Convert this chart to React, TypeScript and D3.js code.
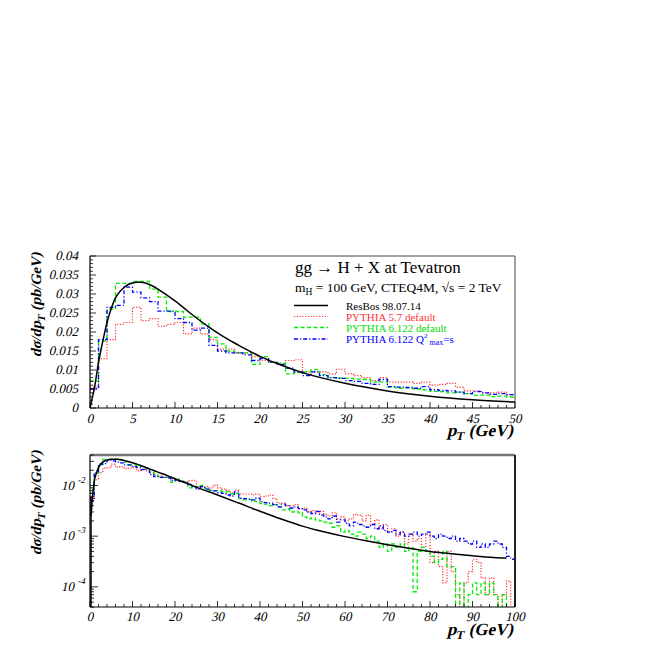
import React from "react";
import * as d3 from "d3";

// ResBos 98.07.14 smooth prediction (pT in GeV, dσ/dpT in pb/GeV)
const resbosPt = [0, 0.25, 0.5, 1, 1.5, 2, 2.5, 3, 3.5, 4, 4.5, 5, 5.5, 6, 7, 8, 9, 10, 11, 12, 13, 14, 15, 16, 17, 18, 19, 20, 22, 25, 30, 35, 40, 45, 50, 55, 60, 65, 70, 75, 80, 85, 90, 95, 98];
const resbosVal = [0, 0.0025, 0.005, 0.012, 0.0175, 0.0225, 0.0262, 0.029, 0.0306, 0.0317, 0.0325, 0.0329, 0.0331, 0.0331, 0.0325, 0.0313, 0.0298, 0.0282, 0.0264, 0.0246, 0.0229, 0.0213, 0.0198, 0.0184, 0.0171, 0.0159, 0.0147, 0.0136, 0.0117, 0.0093, 0.0065, 0.0045, 0.0031, 0.00218, 0.00158, 0.00122, 0.00098, 0.00081, 0.00068, 0.00058, 0.0005, 0.00045, 0.00041, 0.00038, 0.00037];

// PYTHIA 5.7 default, 1 GeV bins 0..100
const pythia57 = [
  0.0055, 0.013, 0.018, 0.022, 0.0225, 0.0265, 0.023, 0.0235, 0.0215, 0.022,
  0.0225, 0.0195, 0.021, 0.0195, 0.018, 0.0155, 0.0155, 0.0145, 0.0145, 0.0135,
  0.0125, 0.012, 0.0115, 0.0125, 0.0127, 0.0095, 0.0095, 0.0095, 0.009, 0.0102,
  0.009, 0.0085, 0.008, 0.0072, 0.008, 0.0068, 0.0068, 0.0068, 0.0065, 0.0068,
  0.006, 0.0062, 0.0065, 0.0055, 0.0045, 0.0045, 0.004, 0.004, 0.0042, 0.0035,
  0.0036, 0.003, 0.0032, 0.0029, 0.0031, 0.0027, 0.0025, 0.0029, 0.0022, 0.0024,
  0.002, 0.0022, 0.0027, 0.0026, 0.002, 0.0026, 0.0017, 0.0021, 0.0014, 0.0017,
  0.0012, 0.0014, 0.001, 0.0012, 0.0007, 0.0011, 0.0008, 0.0009, 0.0006, 0.0011,
  0.0003, 0.0005, 0.00025, 0.00012, 0.0005, 0.0002, 0.00007, 0, 0.00012, 0.0002,
  0.00035, 0.0003, 0.00015, 0.00007, 0.00015, 0.00007, 0, 0.00007, 0.00013, 0
];

// PYTHIA 6.122 default
const pythia6122 = [
  0.0071, 0.0176, 0.026, 0.0328, 0.0328, 0.0333, 0.0333, 0.0313, 0.0292, 0.0254,
  0.0254, 0.0239, 0.0239, 0.0221, 0.0186, 0.0169, 0.015, 0.0145, 0.0145, 0.0115,
  0.0135, 0.012, 0.0118, 0.009, 0.0093, 0.0095, 0.0101, 0.0088, 0.008, 0.0079,
  0.0078, 0.0076, 0.0075, 0.0068, 0.0069, 0.0055, 0.0052, 0.0053, 0.005, 0.0048,
  0.0044, 0.0043, 0.004, 0.0042, 0.0038, 0.0033, 0.0034, 0.003, 0.0031, 0.0029,
  0.0024, 0.0022, 0.0023, 0.0021, 0.002, 0.0019, 0.0018, 0.0015, 0.0016, 0.0012,
  0.0013, 0.0011, 0.001, 0.0012, 0.0011, 0.0009, 0.001, 0.0008, 0.0006, 0.0007,
  0.0005, 0.0007, 0.0006, 0.0007, 0.0005, 0.0006, 0.00008, 0.0005, 0.0006, 0.0005,
  0.0004, 0.0003, 0.00035, 0.0005, 0.00025, 0.00025, 0, 0.00012, 0, 0.00007,
  0.00012, 0.00007, 0.00012, 0.00007, 0.00012, 0.00007, 0, 0.00007, 0, 0
];

// PYTHIA 6.122 Q^2_max = s
const pythiaQ2 = [
  0.005, 0.018, 0.0265, 0.027, 0.0318, 0.0305, 0.029, 0.028, 0.0255, 0.0255,
  0.0235, 0.0225, 0.0205, 0.021, 0.0165, 0.015, 0.0145, 0.0145, 0.014, 0.0125,
  0.013, 0.012, 0.0115, 0.0105, 0.0095, 0.0085, 0.0095, 0.0085, 0.008, 0.0078,
  0.0072, 0.007, 0.0065, 0.0062, 0.0075, 0.0056, 0.0055, 0.0054, 0.0052, 0.0056,
  0.0048, 0.0046, 0.0045, 0.0042, 0.0038, 0.0043, 0.004, 0.0036, 0.0038, 0.0035,
  0.0033, 0.003, 0.0028, 0.0031, 0.0026, 0.0024, 0.0022, 0.0025, 0.0019, 0.0021,
  0.0018, 0.0016, 0.0019, 0.0017, 0.0016, 0.0015, 0.0017, 0.0014, 0.0016, 0.0013,
  0.0012, 0.0013, 0.0011, 0.0012, 0.001, 0.0011, 0.0012, 0.001, 0.0011, 0.0012,
  0.001, 0.0009, 0.0011, 0.001, 0.0009, 0.001, 0.0008, 0.0009, 0.0008, 0.0007,
  0.0008, 0.0006, 0.0007, 0.0006, 0.0007, 0.0008, 0.0007, 0.0006, 0.0004, 0.00035
];

const topYTickLabels = ["0", "0.005", "0.01", "0.015", "0.02", "0.025", "0.03", "0.035", "0.04"];
const topYTickValues = [0, 0.005, 0.01, 0.015, 0.02, 0.025, 0.03, 0.035, 0.04];
const topXTicks = [0, 5, 10, 15, 20, 25, 30, 35, 40, 45, 50];
const botXTicks = [0, 10, 20, 30, 40, 50, 60, 70, 80, 90, 100];
const botYExponents = [-2, -3, -4];

const legendLabels = ["ResBos 98.07.14", "PYTHIA 5.7 default", "PYTHIA 6.122 default"];

const L = 90, R = 515;
const TOP_T = 256, TOP_B = 408;
const BOT_T = 455, BOT_B = 607;
const FONT = "'Liberation Serif', 'Times New Roman', serif";
const SKEW = -13;

const styles = {
  resbos: { stroke: "#000", dash: undefined as string | undefined, width: 1.5 },
  p57: { stroke: "#ff3030", dash: "1.2 1.6", width: 1.2 },
  p6: { stroke: "#00ee00", dash: "4 2.5", width: 1.3 },
  pq: { stroke: "#0000ff", dash: "4 2 1.2 2", width: 1.3 },
};

function histPoints(vals: number[], n: number, floor: number): [number, number][] {
  const pts: [number, number][] = [];
  for (let i = 0; i < n; i++) {
    const v = Math.max(vals[i], floor);
    pts.push([i, v], [i + 1, v]);
  }
  return pts;
}

// Italic rendering via skew so the serif face is kept
function IText(props: { x: number; y: number; size: number; anchor?: string; bold?: boolean; rotate?: number; children?: React.ReactNode }) {
  const { x, y, size, anchor, bold, rotate, children } = props;
  const tr = `translate(${x},${y})` + (rotate ? ` rotate(${rotate})` : "") + ` skewX(${SKEW})`;
  return (
    <text transform={tr} fontSize={size} textAnchor={anchor || "start"} fontWeight={bold ? "bold" : "normal"}>
      {children}
    </text>
  );
}

export default function App() {
  const xTop = d3.scaleLinear().domain([0, 50]).range([L, R]);
  const yTop = d3.scaleLinear().domain([0, 0.04]).range([TOP_B, TOP_T]);
  const xBot = d3.scaleLinear().domain([0, 100]).range([L, R]);
  const yBot = d3.scaleLog().domain([4e-5, 0.04]).range([BOT_B, BOT_T]);

  const lineTop = d3.line<[number, number]>().x((d) => xTop(d[0])).y((d) => yTop(d[1]));
  const lineBot = d3.line<[number, number]>().x((d) => xBot(d[0])).y((d) => yBot(d[1]));
  const smoothTop = d3.line<[number, number]>().x((d) => xTop(d[0])).y((d) => yTop(d[1])).curve(d3.curveMonotoneX);
  const smoothBot = d3.line<[number, number]>().x((d) => xBot(d[0])).y((d) => yBot(d[1])).curve(d3.curveMonotoneX);

  const resbos: [number, number][] = resbosPt.map((p, i) => [p, resbosVal[i]]);
  const resbosTop = resbos.filter((d) => d[0] <= 50.5);
  const resbosBot = resbos.filter((d) => d[1] > 0);

  const hists = [
    { data: pythia57, st: styles.p57 },
    { data: pythia6122, st: styles.p6 },
    { data: pythiaQ2, st: styles.pq },
  ];

  const topXMinor = d3.range(0, 51, 1);
  const topYMinor = d3.range(0, 0.0405, 0.001);
  const botXMinor = d3.range(0, 101, 2);
  const botYMinor: { v: number; major: boolean }[] = [];
  for (let k = -5; k <= -2; k++) {
    for (let m = 1; m <= 9; m++) {
      const v = m * Math.pow(10, k);
      if (v >= 4e-5 && v <= 0.04) botYMinor.push({ v, major: m === 1 });
    }
  }

  const legendRows = [305.5, 316.5, 327.5, 339];
  const legendStyles = [styles.resbos, styles.p57, styles.p6, styles.pq];
  const legendColors = ["#000", "#ff3030", "#00dd00", "#0000ff"];

  return (
    <svg width={654} height={654} style={{ position: "absolute", left: 0, top: 0, background: "#fff" }} fontFamily={FONT}>
      <defs>
        <clipPath id="clipTop">
          <rect x={L} y={TOP_T} width={R - L} height={TOP_B - TOP_T} />
        </clipPath>
        <clipPath id="clipBot">
          <rect x={L} y={BOT_T} width={R - L} height={BOT_B - BOT_T} />
        </clipPath>
      </defs>
      <rect x={0} y={0} width={654} height={654} fill="#fff" />

      {/* ===== TOP PANEL ===== */}
      <g clipPath="url(#clipTop)">
        {hists.map((h, i) => (
          <path key={i} d={lineTop(histPoints(h.data, 50, 0)) || ""} fill="none"
            stroke={h.st.stroke} strokeWidth={h.st.width} strokeDasharray={h.st.dash} />
        ))}
        <path d={smoothTop(resbosTop) || ""} fill="none" stroke="#000" strokeWidth={1.5} />
      </g>
      <line x1={L} x2={R} y1={TOP_T} y2={TOP_T} stroke="#444" strokeWidth={1} />
      <line x1={R} x2={R} y1={TOP_T} y2={TOP_B} stroke="#444" strokeWidth={1} />
      <line x1={L} x2={L} y1={TOP_T} y2={TOP_B} stroke="#000" strokeWidth={1.2} />
      <line x1={L} x2={R} y1={TOP_B} y2={TOP_B} stroke="#000" strokeWidth={1.2} />
      {topXMinor.map((t) => (
        <line key={"tx" + t} x1={xTop(t)} x2={xTop(t)} y1={TOP_B} y2={TOP_B - (t % 5 === 0 ? 6 : 3)} stroke="#000" strokeWidth={0.8} />
      ))}
      {topYMinor.map((t, i) => (
        <line key={"ty" + i} x1={L} x2={L + (i % 5 === 0 ? 6 : 3)} y1={yTop(t)} y2={yTop(t)} stroke="#000" strokeWidth={0.8} />
      ))}
      {topXTicks.map((t) => (
        <IText key={"txl" + t} x={xTop(t)} y={TOP_B + 15} size={13} anchor="middle">{t}</IText>
      ))}
      {topYTickValues.map((t, i) => (
        <IText key={"tyl" + i} x={78} y={yTop(t) + 4} size={13} anchor="end">{topYTickLabels[i]}</IText>
      ))}
      <IText x={41} y={305} rotate={-90} size={14.5} anchor="middle" bold>
        dσ/dp<tspan fontSize={10.5} dy={4}>T</tspan><tspan dy={-4}> (pb/GeV)</tspan>
      </IText>
      <IText x={513} y={436} size={17} anchor="end" bold>
        p<tspan fontSize={12} dy={4}>T</tspan><tspan dy={-4}> (GeV)</tspan>
      </IText>

      {/* legend */}
      <text x={295} y={273} fontSize={17}>gg → H + X at Tevatron</text>
      <text x={295} y={292} fontSize={13.5}>
        m<tspan fontSize={9.5} dy={3}>H</tspan><tspan dy={-3}> = 100 GeV, CTEQ4M, √s = 2 TeV</tspan>
      </text>
      {legendRows.map((y, i) => (
        <line key={"lg" + i} x1={294} x2={328} y1={y} y2={y} stroke={legendStyles[i].stroke}
          strokeWidth={legendStyles[i].width} strokeDasharray={legendStyles[i].dash} />
      ))}
      {legendLabels.map((s, i) => (
        <text key={"lt" + i} x={346} y={legendRows[i] + 4} fontSize={11} fill={legendColors[i]}>{s}</text>
      ))}
      <text x={346} y={legendRows[3] + 4} fontSize={11} fill="#0000ff">
        PYTHIA 6.122 Q<tspan fontSize={7} dy={-5}>2</tspan><tspan fontSize={8} dy={7}> max</tspan><tspan fontSize={11} dy={-2}>=s</tspan>
      </text>

      {/* ===== BOTTOM PANEL ===== */}
      <g clipPath="url(#clipBot)">
        {hists.map((h, i) => (
          <path key={i} d={lineBot(histPoints(h.data, 100, 1e-6)) || ""} fill="none"
            stroke={h.st.stroke} strokeWidth={h.st.width} strokeDasharray={h.st.dash} />
        ))}
        <path d={smoothBot(resbosBot) || ""} fill="none" stroke="#000" strokeWidth={1.5} />
        <line x1={L + 1} x2={L + 1} y1={BOT_B} y2={yBot(0.006)} stroke="#000" strokeWidth={1.5} />
      </g>
      <line x1={L} x2={R} y1={BOT_T} y2={BOT_T} stroke="#777" strokeWidth={2.5} />
      <line x1={R} x2={R} y1={BOT_T} y2={BOT_B} stroke="#222" strokeWidth={2} />
      <line x1={L} x2={L} y1={BOT_T} y2={BOT_B} stroke="#000" strokeWidth={1.2} />
      <line x1={L} x2={R} y1={BOT_B} y2={BOT_B} stroke="#000" strokeWidth={1.2} />
      {botXMinor.map((t) => (
        <line key={"bx" + t} x1={xBot(t)} x2={xBot(t)} y1={BOT_B} y2={BOT_B - (t % 10 === 0 ? 6 : 3)} stroke="#000" strokeWidth={0.8} />
      ))}
      {botYMinor.map((t, i) => (
        <line key={"by" + i} x1={L} x2={L + (t.major ? 8 : 4)} y1={yBot(t.v)} y2={yBot(t.v)} stroke="#000" strokeWidth={0.8} />
      ))}
      {botXTicks.map((t) => (
        <IText key={"bxl" + t} x={xBot(t)} y={BOT_B + 14} size={13} anchor="middle">{t}</IText>
      ))}
      {botYExponents.map((e) => (
        <IText key={"byl" + e} x={61} y={yBot(Math.pow(10, e)) + 4} size={13}>
          10<tspan fontSize={9} dy={-7} dx={2}>{e}</tspan>
        </IText>
      ))}
      <IText x={41} y={503} rotate={-90} size={14.5} anchor="middle" bold>
        dσ/dp<tspan fontSize={10.5} dy={4}>T</tspan><tspan dy={-4}> (pb/GeV)</tspan>
      </IText>
      <IText x={513} y={635} size={17} anchor="end" bold>
        p<tspan fontSize={12} dy={4}>T</tspan><tspan dy={-4}> (GeV)</tspan>
      </IText>
    </svg>
  );
}
